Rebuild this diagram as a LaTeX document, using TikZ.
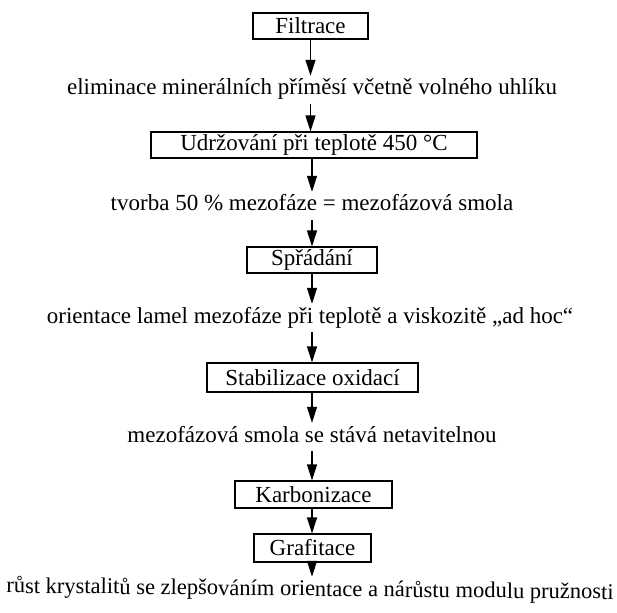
\documentclass[tikz,border=0pt]{standalone}
\usepackage{fontspec}
\setmainfont{Liberation Serif}
\usetikzlibrary{arrows.meta}
\newcommand{\fsz}{\fontsize{23}{27}\selectfont}
\newcommand{\fszl}{\fontsize{22.5}{27}\selectfont}
\begin{document}
\begin{tikzpicture}[x=1pt,y=-1pt,
  box/.style={draw,line width=1.1pt,inner sep=0pt,font=\fsz},
  txt/.style={inner xsep=0pt,inner ysep=4pt,text height=15pt,text depth=5pt,font=\fsz},
  arr/.style={line width=1.2pt,-{Triangle[length=16pt,width=10pt]}}]
\useasboundingbox (0,0) rectangle (617,612);
\node[box,minimum width=115pt,minimum height=26pt] (filt) at (310.5,26) {Filtrace};
\node[txt] (elim) at (312,90) {eliminace minerálních příměsí včetně volného uhlíku};
\node[box,minimum width=326pt,minimum height=26pt] (udr) at (314,145) {Udržování při teplotě 450 °C};
\node[txt] (tvor) at (312,206) {tvorba 50 \% mezofáze = mezofázová smola};
\node[box,minimum width=130pt,minimum height=26pt] (spr) at (312,260) {Spřádání};
\node[txt] (orie) at (310,318) {orientace lamel mezofáze při teplotě a viskozitě „ad hoc“};
\node[box,minimum width=211pt,minimum height=29pt] (stab) at (312.5,377.5) {Stabilizace oxidací};
\node[txt] (mezo) at (312,437) {mezofázová smola se stává netavitelnou};
\node[box,minimum width=157pt,minimum height=27pt] (karb) at (313.5,494.5) {Karbonizace};
\node[box,minimum width=117pt,minimum height=28pt] (graf) at (312.5,548) {Grafitace};
\node[txt,font=\fszl,rotate=-0.6] (rust) at (310,591) {růst krystalitů se zlepšováním orientace a nárůstu modulu pružnosti};
\draw[arr] (filt) -- (filt |- elim.north);
\draw[arr] (elim.south -| filt) -- (filt |- udr.north);
\draw[arr] (udr.south -| spr) -- (spr |- tvor.north);
\draw[arr] (tvor.south -| spr) -- (spr);
\draw[arr] (spr) -- (spr |- orie.north);
\draw[arr] (orie.south -| spr) -- (spr |- stab.north);
\draw[arr] (stab.south -| spr) -- (spr |- mezo.north);
\draw[arr] (mezo.south -| spr) -- (spr |- karb.north);
\draw[arr] (karb.south -| spr) -- (spr |- graf.north);
\draw[arr] (graf.south -| spr) -- (spr |- rust.north);
\end{tikzpicture}
\end{document}
